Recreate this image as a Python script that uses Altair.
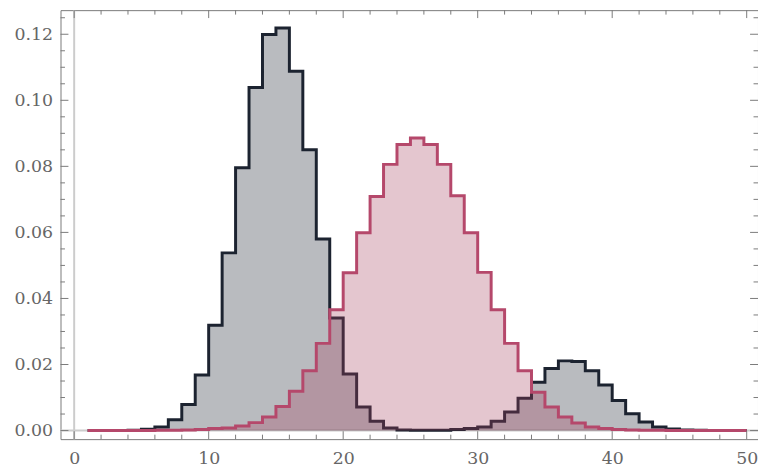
import altair as alt
import pandas as pd

# bins of width 1, left edges 1..49 (last edge 50)
bin_left = list(range(1, 50))
gray_vals = [0, 0, 0, 0.0001, 0.0004, 0.0011, 0.0033, 0.0079, 0.0168, 0.0319,
             0.0538, 0.0796, 0.1039, 0.1199, 0.1219, 0.1088, 0.0850, 0.0580, 0.0341, 0.0171,
             0.0071, 0.0028, 0.0008, 0.0002, 0.0001, 0.0001, 0.0001, 0.0003, 0.0006, 0.0011,
             0.0028, 0.0056, 0.0098, 0.0146, 0.0188, 0.0211, 0.0209, 0.0181, 0.0138, 0.0091,
             0.0051, 0.0026, 0.0011, 0.0005, 0.0002, 0.0001, 0, 0, 0]
red_vals = [0, 0, 0, 0, 0, 0.0001, 0.0001, 0.0002, 0.0003, 0.0006,
            0.0008, 0.0014, 0.0024, 0.0041, 0.0073, 0.0119, 0.0181, 0.0264, 0.0366, 0.0478,
            0.0599, 0.0709, 0.0806, 0.0866, 0.0886, 0.0866, 0.0806, 0.0711, 0.0599, 0.0479,
            0.0366, 0.0264, 0.0181, 0.0116, 0.0071, 0.0041, 0.0023, 0.0011, 0.0006, 0.0003,
            0.0002, 0.0001, 0.0001, 0, 0, 0, 0, 0, 0]

x_major = [0, 10, 20, 30, 40, 50]
x_minor = [v for v in range(2, 50, 2) if v % 10]
y_major = [0.0, 0.02, 0.04, 0.06, 0.08, 0.10, 0.12]
y_minor = [round(0.005 * i, 3) for i in range(1, 26) if i % 4]

W, H = 704, 433
FONT = "DejaVu Serif"
GRAY_DARK = "#1c2330"
RED_DARK = "#b5486b"
FRAME = "#7a7a7a"

def hist_df(vals):
    xs_ = bin_left + [50]
    ys_ = vals + [vals[-1]]
    return pd.DataFrame({"x": xs_, "y": ys_})

xs = alt.Scale(domain=[-1.016, 50.84], nice=False, zero=False)
ys = alt.Scale(domain=[-0.0026, 0.1273], nice=False, zero=False)

xaxis = alt.Axis(values=x_major, format="d", ticks=False, domain=False, grid=False,
                 labelFont=FONT, labelFontSize=17.5, labelColor="#666666",
                 labelPadding=11, labelFlush=False, labelOverlap=False, title=None)
yaxis = alt.Axis(values=y_major, format=".2f", ticks=False, domain=False, grid=False,
                 labelFont=FONT, labelFontSize=17.5, labelColor="#666666",
                 labelPadding=8, labelFlush=False, labelOverlap=False, title=None)

X = alt.X("x:Q", scale=xs, axis=xaxis)
Y = alt.Y("y:Q", scale=ys, axis=yaxis)

gray_df = hist_df(gray_vals)
red_df = hist_df(red_vals)

zero_v = alt.Chart(pd.DataFrame({"x": [0]})).mark_rule(color="#cccccc", strokeWidth=2).encode(x=X)
zero_h = alt.Chart(pd.DataFrame({"y": [0]})).mark_rule(color="#cccccc", strokeWidth=2).encode(y=Y)

gray_area = alt.Chart(gray_df).mark_area(interpolate="step-after", color=GRAY_DARK, opacity=0.31).encode(
    x=X, y=Y, y2=alt.datum(0))
gray_line = alt.Chart(gray_df).mark_line(interpolate="step-after", color=GRAY_DARK, strokeWidth=3,
                                         strokeJoin="miter").encode(x=X, y=Y)
red_area = alt.Chart(red_df).mark_area(interpolate="step-after", color="#a5415f", opacity=0.30).encode(
    x=X, y=Y, y2=alt.datum(0))
red_line = alt.Chart(red_df).mark_line(interpolate="step-after", color=RED_DARK, strokeWidth=3,
                                       strokeJoin="miter").encode(x=X, y=Y)

def xticks(vals, length):
    d = pd.DataFrame({"x": vals})
    bot = alt.Chart(d).mark_rule(color=FRAME, strokeWidth=1).encode(
        x=X, y=alt.value(H), y2=alt.value(H - length))
    top = alt.Chart(d).mark_rule(color=FRAME, strokeWidth=1).encode(
        x=X, y=alt.value(0), y2=alt.value(length))
    return [bot, top]

def yticks(vals, length):
    d = pd.DataFrame({"y": vals})
    left = alt.Chart(d).mark_rule(color=FRAME, strokeWidth=1).encode(
        y=Y, x=alt.value(0), x2=alt.value(length))
    right = alt.Chart(d).mark_rule(color=FRAME, strokeWidth=1).encode(
        y=Y, x=alt.value(W), x2=alt.value(W - length))
    return [left, right]

layers = [zero_v, zero_h, gray_area, gray_line, red_area, red_line]
layers += xticks(x_major, 8) + xticks(x_minor, 4.5)
layers += yticks(y_major, 8) + yticks(y_minor, 4.5)

chart = alt.layer(*layers).properties(
    width=W, height=H,
    autosize=alt.AutoSizeParams(type="none"),
    padding={"left": 53, "top": 0, "right": 0, "bottom": 31},
).configure_view(stroke=FRAME, strokeWidth=1)

chart.save("out.html", embed_options={"renderer": "svg", "actions": False})
